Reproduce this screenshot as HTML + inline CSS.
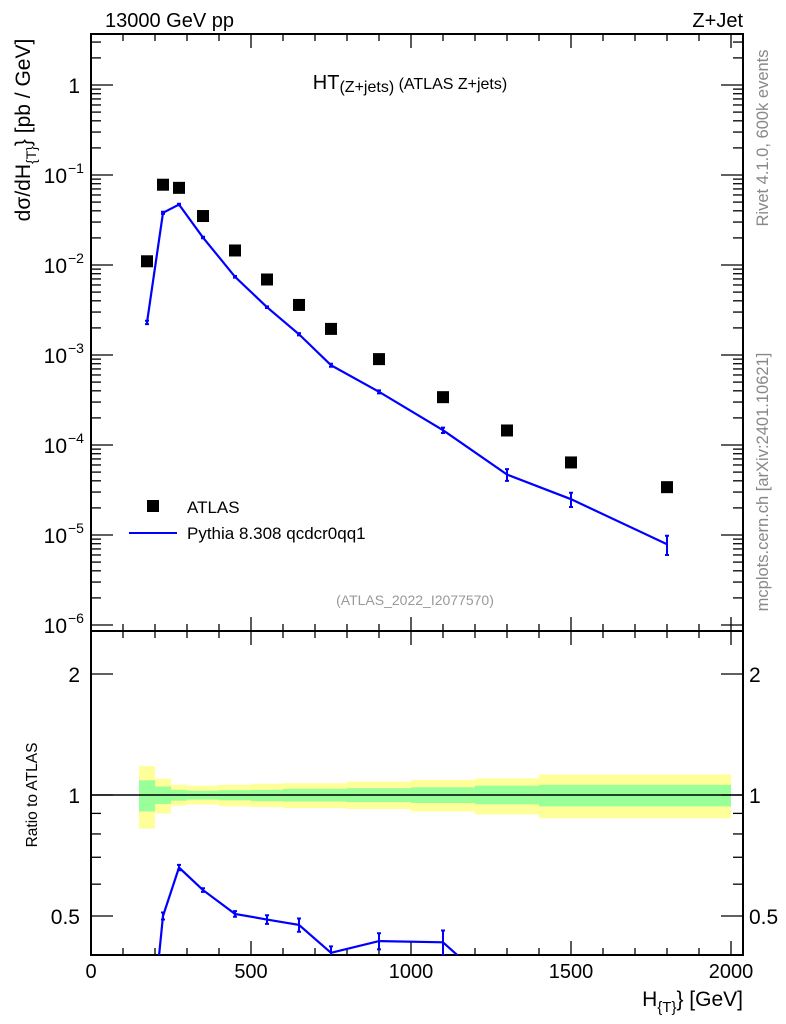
<!DOCTYPE html>
<html><head><meta charset="utf-8"><style>
html,body{margin:0;padding:0;background:#fff;width:786px;height:1024px;overflow:hidden}
svg{display:block;font-family:"Liberation Sans",Arial,sans-serif}
</style></head><body>
<svg width="786" height="1024" viewBox="0 0 786 1024" xmlns="http://www.w3.org/2000/svg">
<g id="bands"></g>
<g id="axes"></g>
<g id="series"></g>
<text x="105" y="27" font-size="20">13000 GeV pp</text>
<text x="743" y="27" font-size="20" text-anchor="end">Z+Jet</text>
<text x="410" y="89" font-size="20" text-anchor="middle">HT<tspan font-size="16" dy="3">(Z+jets)</tspan><tspan font-size="16" dy="-3"> (ATLAS Z+jets)</tspan></text>
<text transform="translate(768,138) rotate(-90)" font-size="16.5" fill="#888" text-anchor="middle">Rivet 4.1.0,  600k events</text>
<text transform="translate(768,482) rotate(-90)" font-size="16.5" fill="#888" text-anchor="middle">mcplots.cern.ch [arXiv:2401.10621]</text>
<text x="415" y="605" font-size="14" fill="#999" text-anchor="middle">(ATLAS_2022_I2077570)</text>
<text transform="translate(30,130) rotate(-90)" font-size="21" text-anchor="middle">dσ/dH<tspan font-size="14" dy="6">{T}</tspan><tspan dy="-6">} [pb / GeV]</tspan></text>
<text transform="translate(37,795) rotate(-90)" font-size="15.5" text-anchor="middle">Ratio to ATLAS</text>
<text x="743" y="1006" font-size="21" text-anchor="end">H<tspan font-size="15" dy="6">{T}</tspan><tspan dy="-6">} [GeV]</tspan></text>
<g>
<rect x="147" y="500" width="12" height="12" fill="#000"/>
<text x="187" y="513" font-size="17">ATLAS</text>
<line x1="129" y1="533" x2="177" y2="533" stroke="#00f" stroke-width="2"/>
<text x="187" y="539" font-size="17">Pythia 8.308 qcdcr0qq1</text>
</g>
</svg>
<script>
const binEdges=[150,200,250,300,400,500,600,700,800,1000,1200,1400,1600,2000];
const xCenters=[175,225,275,350,450,550,650,750,900,1100,1300,1500,1800];
const atlasVals=[1.1e-2,0.078,0.072,0.035,0.0145,6.9e-3,3.6e-3,1.95e-3,9e-4,3.4e-4,1.45e-4,6.4e-5,3.4e-5];
const mcVals=[2.3e-3,0.038,0.047,0.0202,7.4e-3,3.4e-3,1.7e-3,7.7e-4,3.9e-4,1.46e-4,4.7e-5,2.5e-5,7.9e-6];
const mcErr=[1e-4,1e-3,1e-3,4e-4,1.5e-4,7e-5,5e-5,3e-5,1.5e-5,1e-5,7e-6,4.5e-6,1.9e-6];
const ratioVals=[0.2,0.5,0.66,0.58,0.506,0.49,0.475,0.405,0.433,0.43,0.31,0.3,0.23];
const ratioErr=[0.02,0.01,0.01,0.006,0.008,0.012,0.018,0.015,0.02,0.03,0.05,0.05,0.06];
const yellowUp=[1.18,1.098,1.06,1.055,1.06,1.067,1.07,1.07,1.08,1.09,1.10,1.125,1.125];
const yellowDn=[0.825,0.90,0.94,0.947,0.937,0.933,0.927,0.927,0.923,0.91,0.895,0.875,0.875];
const greenUp=[1.088,1.05,1.03,1.025,1.028,1.03,1.036,1.036,1.04,1.045,1.055,1.06,1.06];
const greenDn=[0.91,0.95,0.968,0.974,0.97,0.965,0.963,0.963,0.96,0.955,0.948,0.937,0.937];
const xTicks=[0,500,1000,1500,2000];
const mainTicks=[1,0.1,0.01,0.001,1e-4,1e-5,1e-6];
const mainTickLabels=["1","10","10","10","10","10","10"];
const mainTickExp=["","−1","−2","−3","−4","−5","−6"];
const ratioTicks=[0.5,1,2];
const ratioTickLabels=["0.5","1","2"];

const NS="http://www.w3.org/2000/svg";
const L=91,R=743,T=34,MB=631,RB=955;
const X=v=>91+v*0.32;
const Y=v=>85-Math.log10(v)*90;
const RY=v=>795-Math.log2(v)*121;
function mk(tag,at,parent){const e=document.createElementNS(NS,tag);for(const k in at)e.setAttribute(k,at[k]);parent.appendChild(e);return e;}
const bands=document.getElementById('bands'),axes=document.getElementById('axes'),ser=document.getElementById('series');
const svg=document.querySelector('svg');
const defs=mk('defs',{},svg);
const cp=mk('clipPath',{id:'rclip'},defs);mk('rect',{x:L,y:MB,width:R-L,height:RB-MB},cp);
const cm=mk('clipPath',{id:'mclip'},defs);mk('rect',{x:L,y:T,width:R-L,height:MB-T},cm);

for(let i=0;i<xCenters.length;i++){
 const x0=X(binEdges[i]),w=X(binEdges[i+1])-x0;
 let r=mk('rect',{x:x0,y:RY(yellowUp[i]),width:w,height:RY(yellowDn[i])-RY(yellowUp[i]),fill:'#ffff99'},bands);
 
 
 r=mk('rect',{x:x0,y:RY(greenUp[i]),width:w,height:RY(greenDn[i])-RY(greenUp[i]),fill:'#99ff99'},bands);
 
 
}
for(const [y0,y1] of [[T,MB],[MB,RB]]){
 const f=mk('rect',{x:L,y:y0,width:R-L,height:y1-y0,fill:'none',stroke:'#000','stroke-width':2},axes);
 
 
}
const one=mk('line',{x1:L,x2:R,y1:RY(1),y2:RY(1),stroke:'#000','stroke-width':1.5},axes);


for(let v=0;v<=2000;v+=100){
 const maj=v%500===0,len=maj?14:7,x=X(v);
 for(const [yb,dir] of [[MB,-1],[T,1],[RB,-1],[MB,1]]){
  mk('line',{x1:x,x2:x,y1:yb,y2:yb+dir*len,stroke:'#000','stroke-width':1.3},axes);
 }
}
xTicks.forEach(v=>{const t=mk('text',{x:X(v),y:978,'font-size':20,'text-anchor':'middle'},axes);t.textContent=v;
 
 });
for(let d=-6;d<=0;d++){
 for(let m=1;m<10;m++){
  const v=m*Math.pow(10,d),y=Y(v);if(y<T)continue;
  const len=m===1?22:10;
  mk('line',{x1:L,x2:L+len,y1:y,y2:y,stroke:'#000','stroke-width':1.3},axes);
  mk('line',{x1:R,x2:R-len,y1:y,y2:y,stroke:'#000','stroke-width':1.3},axes);
 }
}
mainTicks.forEach((v,i)=>{const t=mk('text',{x:i===0?80:67,y:Y(v)+8,'font-size':21,'text-anchor':'end'},axes);t.textContent=mainTickLabels[i];
 
 
 if(mainTickExp[i]){const s=mk('text',{x:68,y:Y(v)-2,'font-size':14},axes);s.textContent=mainTickExp[i];
 
 }});
[0.5,0.6,0.7,0.8,0.9,1,2].forEach(v=>{const y=RY(v);const len=(v===0.5||v===1||v===2)?22:10;
 mk('line',{x1:L,x2:L+len,y1:y,y2:y,stroke:'#000','stroke-width':1.3},axes);
 mk('line',{x1:R,x2:R-len,y1:y,y2:y,stroke:'#000','stroke-width':1.3},axes);});
ratioTicks.forEach((v,i)=>{
 let t=mk('text',{x:80,y:RY(v)+8,'font-size':21,'text-anchor':'end'},axes);t.textContent=ratioTickLabels[i];
 
 
 t=mk('text',{x:749,y:RY(v)+8,'font-size':21},axes);t.textContent=ratioTickLabels[i];
 
 });
const gm=mk('g',{'clip-path':'url(#mclip)'},ser);
const pl=mk('polyline',{points:xCenters.map((x,i)=>X(x)+','+Y(mcVals[i])).join(' '),fill:'none',stroke:'#00f','stroke-width':2.2},gm);


xCenters.forEach((x,i)=>{
 const e=mk('path',{d:`M${X(x)},${Y(mcVals[i]+mcErr[i])}V${Y(mcVals[i]-mcErr[i])}M${X(x)-2},${Y(mcVals[i]+mcErr[i])}h4M${X(x)-2},${Y(mcVals[i]-mcErr[i])}h4`,stroke:'#00f','stroke-width':2,fill:'none'},gm);
 
 
 const r=mk('rect',{x:X(x)-6,y:Y(atlasVals[i])-6,width:12,height:12,fill:'#000'},gm);
 
 
});
const gr=mk('g',{'clip-path':'url(#rclip)'},ser);
const rl=mk('polyline',{points:xCenters.map((x,i)=>X(x)+','+RY(ratioVals[i])).join(' '),fill:'none',stroke:'#00f','stroke-width':2.2},gr);


xCenters.forEach((x,i)=>{
 const a=RY(ratioVals[i]+ratioErr[i]),b=RY(ratioVals[i]-ratioErr[i]);
 const e=mk('path',{d:`M${X(x)},${a}V${b}M${X(x)-2},${a}h4M${X(x)-2},${b}h4`,stroke:'#00f','stroke-width':2,fill:'none'},gr);
 
 
});
</script>
</body></html>
